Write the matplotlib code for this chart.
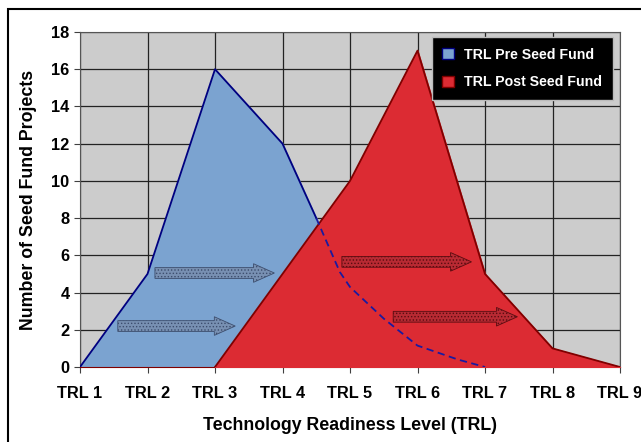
import matplotlib.pyplot as plt
from matplotlib.patches import Rectangle, FancyArrow, Patch

plt.rcParams["font.family"] = ["Liberation Sans", "DejaVu Sans"]
plt.rcParams["font.weight"] = "bold"
plt.rcParams["hatch.linewidth"] = 0.6

# TRL levels 1..9
trl = [1, 2, 3, 4, 5, 6, 7, 8, 9]
trl_labels = ["TRL 1", "TRL 2", "TRL 3", "TRL 4", "TRL 5",
              "TRL 6", "TRL 7", "TRL 8", "TRL 9"]
pre_seed = [0, 5, 16, 12, 4, 1, 0, 0, 0]
post_seed = [0, 0, 0, 5, 10, 17, 5, 1, 0]

# hand drawn trend of pre seed projects through the red area
trend_x = [4.5, 4.85, 5.0, 5.5, 6.0, 6.6, 7.0]
trend_y = [8.0, 5.1, 4.3, 2.6, 1.15, 0.4, 0.0]

fig = plt.figure(figsize=(6.41, 4.42), dpi=100)
fig.patch.set_facecolor("white")
ax = fig.add_axes([80 / 641, 1 - 367 / 442, 540 / 641, 335 / 442])
ax.set_facecolor("#cccccc")

ax.fill_between(trl, pre_seed, color="#7ba3d0", zorder=2)
ax.plot(trl[:4] + [4.5], pre_seed[:4] + [8], color="#000080", lw=1.3, zorder=3)

# post area starts at TRL 3
ax.fill_between(trl[2:], post_seed[2:], color="#dc2b33", zorder=4)
ax.plot(trl[2:], post_seed[2:], color="#800000", lw=1.3, zorder=5)

ax.plot(trend_x, trend_y, color="#1a1aa0", lw=1.3, ls=(0, (4, 2.5)), zorder=6)

# arrows: (x_start, x_end, y)
arrows = [
    (1.56, 3.30, 2.2, "#7890b2", "#3d4e6e"),
    (2.11, 3.88, 5.05, "#7890b2", "#3d4e6e"),
    (4.88, 6.80, 5.65, "#b82a33", "#5a0c10"),
    (5.64, 7.48, 2.7, "#b82a33", "#5a0c10"),
]
for x0, x1, y, fc, hc in arrows:
    a = FancyArrow(x0, y, x1 - x0, 0, width=0.58, head_width=1.0,
                   head_length=0.31, length_includes_head=True,
                   facecolor=fc, edgecolor=hc, hatch=".....", lw=0.6,
                   zorder=7)
    ax.add_patch(a)

ax.set_xlim(1, 9)
ax.set_ylim(0, 18)
ax.set_xticks(trl)
ax.set_xticklabels(trl_labels)
ax.set_yticks(range(0, 19, 2))
ax.tick_params(axis="both", labelsize=11.8, direction="out", length=4,
               color="#404040")
ax.tick_params(axis="x", pad=10)
ax.grid(True, color="#222222", lw=0.9, zorder=1)
ax.set_axisbelow(True)
for s in ax.spines.values():
    s.set_color("#555555")
ax.spines["bottom"].set_color("#800000")

ax.set_xlabel("Technology Readiness Level (TRL)", fontsize=12.8,
              fontweight="bold", labelpad=11)
ax.set_ylabel("Number of Seed Fund Projects", fontsize=12.8,
              fontweight="bold", labelpad=10)

handles = [Patch(facecolor="#7ba3d0", edgecolor="#000080", label="TRL Pre Seed Fund"),
           Patch(facecolor="#dc2b33", edgecolor="#800000", label="TRL Post Seed Fund")]
leg = ax.legend(handles=handles, loc="upper right", fontsize=10.2,
                frameon=True, fancybox=False, facecolor="black",
                edgecolor="#bbbbbb", labelcolor="white",
                handlelength=0.85, handleheight=0.85, borderpad=0.75,
                labelspacing=0.95, handletextpad=0.7, borderaxespad=0,
                bbox_to_anchor=(0.987, 0.985))
leg.set_zorder(10)
leg.get_frame().set_alpha(1)

# outer chart border
fig.patches.append(Rectangle((8 / 641, -0.2), 1.2, 1.2 - 9 / 442,
                             transform=fig.transFigure, fill=False,
                             edgecolor="black", lw=1.5))

fig.savefig("out.png", dpi=100)
